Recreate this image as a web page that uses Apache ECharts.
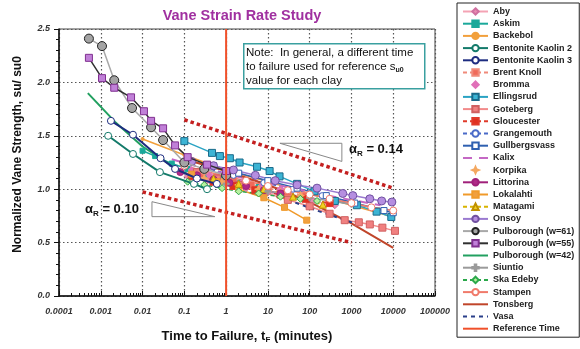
<!DOCTYPE html>
<html>
<head>
<meta charset="utf-8">
<script src="https://cdn.jsdelivr.net/npm/echarts@6/dist/echarts.min.js"></script>
<style>html,body{margin:0;padding:0;background:#fff}#chart{width:580px;height:349px}</style>
</head>
<body>
<div id="chart"></div>
<script>
// tick labels
const xTickLabels = ['0.0001', '0.001', '0.01', '0.1', '1', '10', '100', '1000', '10000', '100000'];
const xMinorFactors = [2, 3, 4, 5, 6, 7, 8, 9];

// [time to failure (min), su/su0]
const aby = [[0.12, 1.12], [0.35, 1.08], [1, 1.05], [3, 1.01], [10, 0.97], [35, 0.93], [120, 0.89], [400, 0.85]];
const askim = [[0.01, 1.36], [0.02, 1.31], [0.05, 1.24], [0.12, 1.19], [0.3, 1.14], [0.8, 1.1], [2, 1.06], [6, 1.02]];
const backebol = [[0.01, 1.47], [0.1, 1.32], [1, 1.18], [10, 1.07], [100, 0.96], [1000, 0.85], [10000, 0.74]];
const bentoniteKaolin2 = [[0.0015, 1.50], [0.0059, 1.33], [0.026, 1.16], [0.17, 1.05], [0.35, 1.0]];
const bentoniteKaolin3 = [[0.00175, 1.64], [0.0059, 1.51], [0.027, 1.29], [0.06, 1.19], [0.2, 1.1], [0.6, 1.05]];
const brentKnoll = [[0.25, 1.14], [0.6, 1.11], [1.5, 1.08], [4, 1.04], [10, 1.01], [30, 0.97], [80, 0.94]];
const bromma = [[0.15, 1.18], [0.4, 1.13], [1, 1.1], [2.5, 1.07], [7, 1.03], [20, 1.0]];
const ellingsrud = [[0.1, 1.45], [0.46, 1.34], [0.71, 1.31], [1.23, 1.29], [2.1, 1.25], [5.5, 1.21], [11, 1.17], [19, 1.12], [50, 1.05], [130, 0.98], [400, 0.89], [1350, 0.85], [4000, 0.79], [9000, 0.74]];
const goteberg = [[0.2, 1.16], [0.6, 1.1], [2, 1.04], [8, 0.97], [30, 0.9], [100, 0.84], [300, 0.77], [690, 0.71], [1500, 0.69], [2750, 0.67], [5500, 0.64], [11000, 0.61]];
const gloucester = [[0.15, 1.12], [0.5, 1.07], [1.5, 1.03], [5, 0.99], [20, 0.95], [80, 0.91], [300, 0.87]];
const grangemouth = [[0.3, 1.2], [1.5, 1.13], [8, 1.06], [40, 1.0], [200, 0.94], [1000, 0.88]];
const gullbergsvass = [[0.5, 1.22], [2, 1.15], [10, 1.08], [50, 1.01], [250, 0.94], [1200, 0.87], [6000, 0.8], [10000, 0.78]];
const kalix = [[0.05, 1.28], [0.5, 1.17], [5, 1.08], [50, 1.0], [500, 0.92], [5000, 0.85]];
const korpika = [[0.3, 1.1], [0.8, 1.07], [2, 1.04], [6, 1.0], [20, 0.97], [60, 0.94]];
const littorina = [[0.08, 1.16], [0.2, 1.13], [0.5, 1.09], [1.2, 1.06], [3, 1.03], [8, 0.99], [20, 0.96]];
const lokalahti = [[0.15, 1.14], [0.6, 1.07], [2, 1.0], [8, 0.92], [25, 0.83], [85, 0.71]];
const matagami = [[0.5, 1.1], [2, 1.05], [8, 1.0], [40, 0.93], [207, 0.855]];
const onsoy = [[0.15, 1.26], [0.5, 1.22], [1.5, 1.18], [5, 1.13], [15, 1.08], [50, 1.04], [150, 1.01], [620, 0.96], [1080, 0.94], [2750, 0.91], [5300, 0.89], [9300, 0.88]];
const pulborough61 = [[0.00052, 2.41], [0.00107, 2.34], [0.0021, 2.02], [0.0056, 1.76], [0.016, 1.58], [0.031, 1.46], [0.1, 1.25], [0.3, 1.19], [1, 1.13]];
const pulborough55 = [[0.00052, 2.23], [0.00107, 2.04], [0.0021, 1.95], [0.0053, 1.86], [0.0108, 1.73], [0.016, 1.64], [0.031, 1.57], [0.06, 1.41], [0.12, 1.30], [0.35, 1.23], [1, 1.17]];
const pulborough42 = [[0.00049, 1.90], [0.0022, 1.63], [0.01, 1.40], [0.05, 1.22], [0.15, 1.12], [0.5, 1.05]];
const siuntio = [[0.2, 1.1], [1, 1.05], [10, 0.98], [100, 0.92], [1000, 0.86], [10000, 0.8]];
const skaEdeby = [[0.12, 1.07], [0.3, 1.04], [0.8, 1.01], [2, 0.98], [6, 0.96], [20, 0.93], [60, 0.91], [150, 0.89]];
const stampen = [[0.1, 1.22], [0.3, 1.17], [1, 1.12], [3, 1.08], [10, 1.03], [30, 0.99], [100, 0.95], [300, 0.91], [1000, 0.87], [3000, 0.83], [10000, 0.8]];
const tonsberg = [[0.1, 1.28], [1, 1.17], [10, 1.04], [100, 0.88], [1000, 0.68], [10000, 0.45]];
const vasa = [[30, 0.9], [150, 0.8], [600, 0.72], [1200, 0.68]];
const referenceTime = [[1, 0], [1, 2.5]];

// bounding trend lines and slope triangles
const upperBound = [[0.1, 1.65], [10000, 1.01]];
const lowerBound = [[0.01, 0.975], [1000, 0.5]];
const upperTriangle = [[19.4, 1.43], [590, 1.43], [590, 1.26], [19.4, 1.43]];
const lowerTriangle = [[0.0168, 0.883], [0.0168, 0.743], [0.537, 0.743], [0.0168, 0.883]];

const minorTicks = [];
for (let e = -4; e < 5; e++) {
  xMinorFactors.forEach(f => minorTicks.push(+(f * Math.pow(10, e)).toPrecision(3)));
}

const plus = 'path://M-1,-0.25H-0.25V-1H0.25V-0.25H1V0.25H0.25V1H-0.25V0.25H-1Z';
const star = 'path://M0,-1L0.3,-0.3L1,0L0.3,0.3L0,1L-0.3,0.3L-1,0L-0.3,-0.3Z';

function ln(name, data, color, o) {
  o = o || {};
  return {
    name: name,
    type: 'line',
    data: data,
    symbol: o.symbol || 'none',
    symbolSize: o.size || 6,
    showSymbol: !!o.symbol,
    z: o.z || 3,
    lineStyle: { color: color, width: o.noLine ? 0 : (o.width || 1.5), type: o.dash || 'solid' },
    itemStyle: { color: o.fill || color, borderColor: o.border || color, borderWidth: o.bw == null ? 1 : o.bw },
    emphasis: { disabled: true },
    animation: false
  };
}

const series = [
  ln('Aby', aby, '#f4a3b4', { symbol: 'diamond', size: 7, fill: '#e88ab0', border: '#d070a0' }),
  ln('Askim', askim, '#1aa89a', { symbol: 'rect', size: 5 }),
  ln('Backebol', backebol, '#f2a03c', { symbol: 'circle', size: 3 }),
  ln('Bentonite Kaolin 2', bentoniteKaolin2, '#137a6a', { symbol: 'circle', size: 7, fill: '#fff', width: 2, z: 4 }),
  ln('Bentonite Kaolin 3', bentoniteKaolin3, '#1d2c80', { symbol: 'circle', size: 7, fill: '#fff', width: 2, z: 4 }),
  ln('Brent Knoll', brentKnoll, '#f08a7a', { symbol: 'rect', size: 7, fill: '#f06a5a', dash: [4, 3] }),
  ln('Bromma', bromma, '#e070b8', { symbol: 'diamond', size: 7, noLine: true }),
  ln('Ellingsrud', ellingsrud, '#2aa3c3', { symbol: 'rect', size: 7, fill: '#3cb4d4', border: '#1a6a8a' }),
  ln('Goteberg', goteberg, '#f28b8b', { symbol: 'rect', size: 7, fill: '#f08080', border: '#d06060' }),
  ln('Gloucester', gloucester, '#e03a2a', { symbol: 'rect', size: 7, fill: '#e03020', dash: [4, 3] }),
  ln('Grangemouth', grangemouth, '#4a6ac8', { symbol: 'circle', size: 6, fill: '#fff', dash: [4, 3] }),
  ln('Gullbergsvass', gullbergsvass, '#2f60b0', { symbol: 'rect', size: 6, fill: '#fff' }),
  ln('Kalix', kalix, '#c468c4', { dash: [9, 7], width: 2 }),
  ln('Korpika', korpika, '#f4a860', { symbol: star, size: 8, fill: '#f4a860', noLine: true }),
  ln('Littorina', littorina, '#a0207a', { symbol: 'circle', size: 7, fill: '#b02a88' }),
  ln('Lokalahti', lokalahti, '#f09a2a', { symbol: 'rect', size: 6, fill: '#f0a040' }),
  ln('Matagami', matagami, '#d8b400', { symbol: 'triangle', size: 7, fill: '#f0d020', border: '#c09000', dash: [4, 3] }),
  ln('Onsoy', onsoy, '#9a7ad0', { symbol: 'circle', size: 8, fill: '#b58ee0', border: '#7050a0' }),
  ln('Pulborough (w=61)', pulborough61, '#a8a8a8', { symbol: 'circle', size: 9, fill: '#a4a4a4', border: '#222', z: 5 }),
  ln('Pulborough (w=55)', pulborough55, '#303030', { symbol: 'rect', size: 7, fill: '#c080d8', border: '#803090', z: 5 }),
  ln('Pulborough (w=42)', pulborough42, '#22a060', { width: 2 }),
  ln('Siuntio', siuntio, '#9a9a9a', { symbol: plus, size: 6 }),
  ln('Ska Edeby', skaEdeby, '#2aa84a', { symbol: 'diamond', size: 7, fill: '#b8f0a0', dash: [4, 3] }),
  ln('Stampen', stampen, '#f07a6a', { symbol: 'circle', size: 7, fill: '#fff' }),
  ln('Tonsberg', tonsberg, '#c0452a', { width: 2 }),
  ln('Vasa', vasa, '#2a3f8a', { dash: [4, 4], width: 2 }),
  ln('Reference Time', referenceTime, '#f0502a', { width: 2, z: 6 }),
  ln('upperBound', upperBound, '#c42020', { width: 3.5, dash: [3.5, 3], z: 2 }),
  ln('lowerBound', lowerBound, '#c42020', { width: 3.5, dash: [3.5, 3], z: 2 }),
  ln('upperTriangle', upperTriangle, '#888', { width: 1, z: 2 }),
  ln('lowerTriangle', lowerTriangle, '#888', { width: 1, z: 2 })
];

// legend entries; line-only series get an invisible symbol
const legendData = series.slice(0, 27).map(s => s.symbol === 'none'
  ? { name: s.name, itemStyle: { opacity: 0 } }
  : { name: s.name });

const chart = echarts.init(document.getElementById('chart'), null, { renderer: 'canvas' });
chart.setOption({
  animation: false,
  backgroundColor: '#fff',
  title: {
    text: 'Vane Strain Rate Study',
    left: 237, top: 3, textAlign: 'center',
    textStyle: { color: '#a030a0', fontSize: 14.5, fontWeight: 'bold', fontFamily: 'Arial' }
  },
  grid: { left: 59, top: 29, right: 145, bottom: 51, show: true, borderColor: '#444', borderWidth: 1 },
  legend: {
    data: legendData,
    orient: 'vertical',
    left: 457, top: 3,
    padding: [4, 5, 4, 5],
    itemWidth: 25, itemHeight: 8, itemGap: 3.2,
    borderColor: '#222', borderWidth: 1,
    selectedMode: false,
    textStyle: { color: '#222', fontSize: 9, fontWeight: 'bold', fontFamily: 'Arial' }
  },
  xAxis: [{
    type: 'log', logBase: 10, min: 0.0001, max: 100000, splitNumber: 9,
    name: 'Time to Failure, t{s|F} (minutes)',
    nameLocation: 'middle', nameGap: 33,
    nameTextStyle: {
      color: '#111', fontSize: 13, fontWeight: 'bold', fontFamily: 'Arial',
      rich: { s: { fontSize: 8, fontWeight: 'bold', verticalAlign: 'bottom', lineHeight: 15 } }
    },
    axisLine: { lineStyle: { color: '#111', width: 1.5 } },
    axisTick: { inside: true, length: 5, lineStyle: { color: '#111' } },
    axisLabel: {
      color: '#333', fontSize: 9, fontWeight: 'bold', fontStyle: 'italic', fontFamily: 'Arial', margin: 11,
      formatter: v => xTickLabels[Math.round(Math.log10(v)) + 4]
    },
    splitLine: { show: true, lineStyle: { color: '#555', type: [1.5, 2.5], width: 1.2 } }
  }, {
    type: 'log', logBase: 10, min: 0.0001, max: 100000, position: 'bottom',
    axisLine: { show: false },
    axisTick: { show: true, inside: true, length: 3, customValues: minorTicks, lineStyle: { color: '#111' } },
    axisLabel: { show: false },
    splitLine: { show: false }
  }],
  yAxis: {
    type: 'value', min: 0, max: 2.5, interval: 0.5,
    name: 'Normalized Vane Strength, su/ su0',
    nameLocation: 'middle', nameGap: 35,
    nameTextStyle: { color: '#111', fontSize: 12, fontWeight: 'bold', fontFamily: 'Arial', padding: [0, 0, 0, 16] },
    axisLine: { show: true, lineStyle: { color: '#111', width: 1.5 } },
    axisTick: { show: true, length: 5, lineStyle: { color: '#111' } },
    minorTick: { show: true, splitNumber: 5, length: 3, lineStyle: { color: '#111' } },
    axisLabel: {
      color: '#333', fontSize: 9, fontWeight: 'bold', fontStyle: 'italic', fontFamily: 'Arial', margin: 9,
      formatter: v => v.toFixed(1)
    },
    splitLine: { show: true, lineStyle: { color: '#555', type: [1.5, 2.5], width: 1.2 } }
  },
  graphic: [
    {
      type: 'rect', left: 243, top: 43, z: 10,
      shape: { width: 181, height: 45 },
      style: { fill: '#fff', stroke: '#3aa0a0', lineWidth: 1.5 }
    },
    {
      type: 'text', left: 246, top: 46, z: 11,
      style: {
        text: 'Note:  In general, a different time\nto failure used for reference s{s|u0}\nvalue for each clay',
        font: '11.5px Arial', fill: '#111', lineHeight: 14,
        rich: { s: { fontSize: 7, fontWeight: 'bold', verticalAlign: 'bottom', lineHeight: 14 } }
      }
    },
    {
      type: 'text', left: 349, top: 143, z: 11,
      style: {
        text: 'α{s|R} = 0.14', font: 'bold 13px Arial', fill: '#111',
        rich: { s: { fontSize: 8, fontWeight: 'bold', verticalAlign: 'bottom', lineHeight: 17 } }
      }
    },
    {
      type: 'text', left: 85, top: 203, z: 11,
      style: {
        text: 'α{s|R} = 0.10', font: 'bold 13px Arial', fill: '#111',
        rich: { s: { fontSize: 8, fontWeight: 'bold', verticalAlign: 'bottom', lineHeight: 17 } }
      }
    }
  ],
  series: series
});
</script>
</body>
</html>
